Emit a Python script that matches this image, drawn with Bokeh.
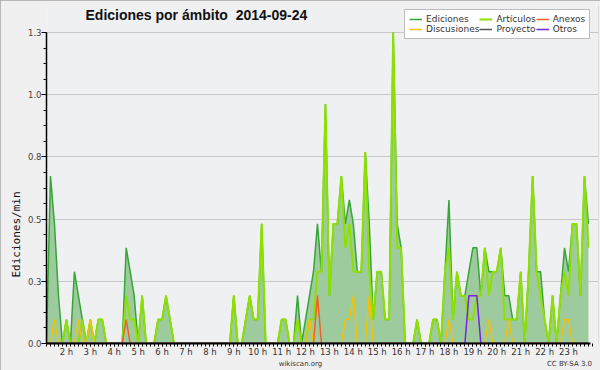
import numpy as np
from bokeh.plotting import figure
from bokeh.models import (Range1d, FixedTicker, PrintfTickFormatter, Label, Legend, LegendItem,
                          LinearAxis, CustomJSTickFormatter, Title)
from bokeh.embed import file_html
from bokeh.resources import INLINE

# 10-minute slots starting at 01:10
START_MIN = 70
STEP_MIN = 10

ediciones = [
    0, 0.7, 0.5, 0.2, 0, 0.1, 0, 0.3, 0.2, 0.1,
    0, 0.1, 0, 0.1, 0.1, 0, 0, 0, 0, 0,
    0.4, 0.3, 0.2, 0, 0.2, 0, 0, 0, 0.1, 0.1,
    0.2, 0.1, 0, 0, 0, 0, 0, 0, 0, 0,
    0, 0, 0, 0, 0, 0, 0, 0.2, 0, 0,
    0.1, 0.2, 0.1, 0.1, 0.5, 0, 0, 0, 0, 0.1,
    0.1, 0, 0, 0.2, 0, 0.1, 0.2, 0.3, 0.5, 0.3,
    1.0, 0.2, 0.5, 0.5, 0.7, 0.5, 0.6, 0.5, 0.3, 0.3,
    0.8, 0.5, 0.1, 0.3, 0.3, 0.1, 0.1, 1.3, 0.5, 0.4,
    0, 0, 0, 0.1, 0, 0, 0, 0.1, 0.1, 0,
    0.3, 0.6, 0.1, 0.3, 0.2, 0.2, 0.3, 0.4, 0.4, 0.2,
    0.4, 0.3, 0.3, 0.3, 0.4, 0.2, 0.2, 0.1, 0.1, 0.3,
    0, 0.3, 0.7, 0.3, 0.3, 0.1, 0, 0.2, 0, 0.2,
    0.4, 0.3, 0.5, 0.5, 0.2, 0.7, 0.5,
]

articulos = [
    0, 0, 0, 0, 0, 0.1, 0, 0, 0, 0.1,
    0, 0.1, 0, 0.1, 0.1, 0, 0, 0, 0, 0,
    0.2, 0.1, 0.1, 0, 0.2, 0, 0, 0, 0.1, 0.1,
    0.2, 0.1, 0, 0, 0, 0, 0, 0, 0, 0,
    0, 0, 0, 0, 0, 0, 0, 0.2, 0, 0,
    0.1, 0.2, 0.1, 0.1, 0.5, 0, 0, 0, 0, 0.1,
    0.1, 0, 0, 0.1, 0, 0, 0.1, 0.1, 0.3, 0.3,
    1.0, 0.2, 0.5, 0.5, 0.7, 0.4, 0.5, 0.3, 0.3, 0.3,
    0.8, 0.3, 0.1, 0.3, 0.3, 0.1, 0.1, 1.3, 0.4, 0.4,
    0, 0, 0, 0.1, 0, 0, 0, 0.1, 0.1, 0,
    0.3, 0.4, 0.1, 0.3, 0.2, 0.2, 0.1, 0.1, 0.2, 0.2,
    0.4, 0.2, 0.3, 0.3, 0.4, 0.1, 0.1, 0.1, 0.1, 0.3,
    0, 0.3, 0.7, 0.3, 0.2, 0.1, 0, 0.2, 0, 0.2,
    0.3, 0.2, 0.5, 0.5, 0.2, 0.7, 0.4,
]

# sparse series: slot index -> edits/min
discusiones_nz = {2: 0.1, 8: 0.1, 11: 0.1, 66: 0.1, 75: 0.1, 76: 0.1, 77: 0.2,
                  81: 0.2, 101: 0.1, 111: 0.1, 116: 0.1, 130: 0.1, 131: 0.1}
anexos_nz = {20: 0.1, 68: 0.2}
proyecto_nz = {}
otros_nz = {106: 0.2, 107: 0.2, 108: 0.2}

hour_ticks = list(range(2, 24))
y_ticks = [0.0, 0.26, 0.52, 0.78, 1.04, 1.3]
Y_MAX = 1.3
X_END = 23.92

n = len(ediciones)
hours = [(START_MIN + STEP_MIN * k) / 60 for k in range(n)]


def dense(nz):
    return [nz.get(k, 0) for k in range(n)]


discusiones = dense(discusiones_nz)
anexos = dense(anexos_nz)
proyecto = dense(proyecto_nz)
otros = dense(otros_nz)

# layout (pixels)
FL, FR, FT, FB = 46, 598, 5, 343          # frame edges on the 600x370 canvas
DATA_TOP = 32                             # pixel row of Y_MAX
x0 = START_MIN / 60
px_per_h = (590 - FL) / (X_END - x0)
x1 = x0 + (FR - FL) / px_per_h
px_per_unit = (FB - DATA_TOP) / Y_MAX
y1 = (FB - FT) / px_per_unit

p = figure(width=600, height=370,
           x_range=Range1d(x0, x1), y_range=Range1d(0, y1),
           output_backend="svg", toolbar_location=None,
           min_border_left=FL, min_border_right=600 - FR,
           min_border_top=FT, min_border_bottom=370 - FB)
p.styles = {"outline": "2px solid #a6a6a6", "outline-offset": "-2px"}
p.border_fill_color = "#f0f0f0"
p.background_fill_color = "#eff0f2"
p.outline_line_color = None

p.varea(x=hours, y1=0, y2=ediciones, fill_color="#9ecb9e", fill_alpha=1.0)
r_ed = p.line(hours, ediciones, line_color="#36a636", line_width=1.5)
r_art = p.line(hours, articulos, line_color="#8ee000", line_width=2)
r_dis = p.line(hours, discusiones, line_color="#f2c200", line_width=1.5)
r_anx = p.line(hours, anexos, line_color="#f06028", line_width=1.5)
r_pro = p.line(hours, proyecto, line_color="#555555", line_width=1.5)
r_otr = p.line(hours, otros, line_color="#7a22e0", line_width=1.5)

# x axis
minor_x = [(START_MIN + STEP_MIN * k) / 60 for k in range(-1, n + 1)]
p.xaxis.ticker = FixedTicker(ticks=hour_ticks, minor_ticks=minor_x)
p.xaxis.bounds = (x0, X_END)
p.xaxis.major_label_overrides = {h: f"{h} h" for h in hour_ticks}
p.xaxis.axis_line_width = 2
p.xaxis.axis_line_color = "black"
p.xaxis.major_tick_in = 0
p.xaxis.major_tick_out = 3
p.xaxis.minor_tick_in = 0
p.xaxis.minor_tick_out = 3
p.xaxis.major_tick_line_color = "black"
p.xaxis.minor_tick_line_color = "black"
p.xaxis.major_label_standoff = 0
p.xaxis.major_label_text_font = "DejaVu Sans"
p.xaxis.major_label_text_font_size = "8.5px"
p.xaxis.major_label_text_color = "#333333"

# footer texts as a second, bare axis below
footer_pos = [x0 + (300 - FL) / px_per_h, x0 + (569 - FL) / px_per_h]
footer = LinearAxis(ticker=FixedTicker(ticks=footer_pos, minor_ticks=[]),
                    formatter=CustomJSTickFormatter(code="return tick < 20 ? 'wikiscan.org' : 'CC BY-SA 3.0'"))
footer.axis_line_color = None
footer.major_tick_line_color = None
footer.minor_tick_line_color = None
footer.major_tick_out = 0
footer.major_tick_in = 0
footer.major_label_standoff = 0
footer.major_label_text_font = "DejaVu Sans"
footer.major_label_text_font_size = "7px"
footer.major_label_text_color = "#333333"
p.add_layout(footer, "below")

# y axis
minor_y = [float(v) for v in np.linspace(0, Y_MAX, 21)]
yt = FixedTicker(ticks=y_ticks, minor_ticks=minor_y)
p.yaxis.ticker = yt
p.yaxis.bounds = (0, Y_MAX)
p.yaxis.formatter = PrintfTickFormatter(format="%.1f")
p.yaxis.axis_line_color = "black"
p.yaxis.axis_line_width = 1.5
p.yaxis.major_tick_in = 0
p.yaxis.major_tick_out = 5
p.yaxis.minor_tick_in = 0
p.yaxis.minor_tick_out = 3
p.yaxis.major_tick_line_color = "black"
p.yaxis.minor_tick_line_color = "black"
p.yaxis.major_label_standoff = 0
p.yaxis.major_label_text_font = "DejaVu Sans"
p.yaxis.major_label_text_font_size = "8.5px"
p.yaxis.major_label_text_color = "#444444"

# y-axis title as a side title, starting 66 px above the frame bottom
p.add_layout(Title(text="Ediciones/min", align="left", offset=FB - 277, standoff=4,
                   text_font="DejaVu Sans Mono", text_font_size="11px",
                   text_font_style="normal", text_color="#111111"), "left")

p.xgrid.visible = False
p.ygrid.ticker = yt
p.ygrid.grid_line_color = "#c8c8c8"

# title (inside the extended frame)
p.add_layout(Label(x=85 - FL, y=FB - 14, x_units="screen", y_units="screen",
                   text="Ediciones por ámbito\u00a0 2014-09-24",
                   text_font="Liberation Sans", text_font_style="bold",
                   text_font_size="14px", text_color="#111111", text_baseline="middle"))

legend = Legend(items=[
    LegendItem(label="Ediciones", renderers=[r_ed]),
    LegendItem(label="Artículos", renderers=[r_art]),
    LegendItem(label="Anexos", renderers=[r_anx]),
    LegendItem(label="Discusiones", renderers=[r_dis]),
    LegendItem(label="Proyecto", renderers=[r_pro]),
    LegendItem(label="Otros", renderers=[r_otr]),
], location=(404 - FL, FB - 39), orientation="horizontal", ncols=3)
legend.label_text_font = "DejaVu Sans"
legend.label_text_font_size = "9px"
legend.label_text_color = "#333333"
legend.label_height = 10
legend.glyph_height = 10
legend.glyph_width = 13
legend.label_standoff = 4
legend.spacing = 0
legend.padding = 4
legend.margin = 0
legend.border_line_color = "#7a7a7a"
legend.border_line_width = 1.5
legend.background_fill_color = "white"
legend.background_fill_alpha = 1.0
p.add_layout(legend, "center")

open("out.html", "w").write(file_html(p, INLINE))
